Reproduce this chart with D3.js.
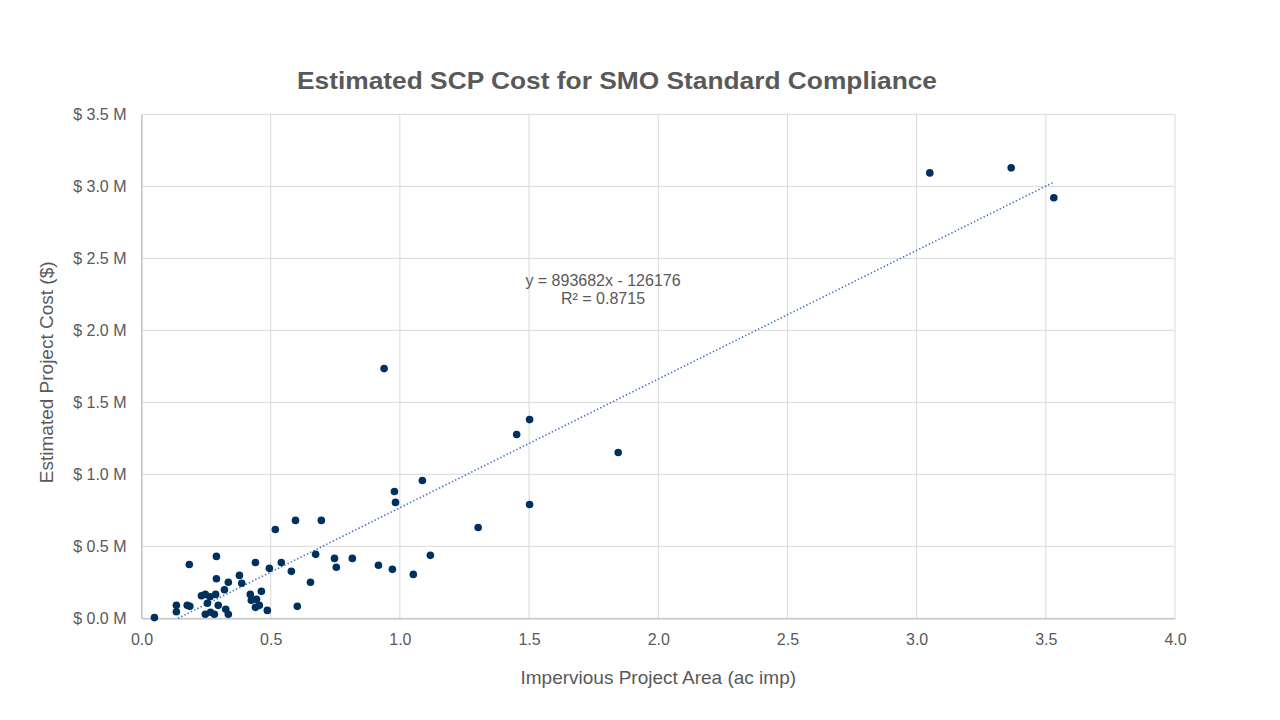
<!DOCTYPE html>
<html>
<head>
<meta charset="utf-8">
<script src="https://cdn.jsdelivr.net/npm/d3@7"></script>
<style>
  body { margin: 0; background: #fff; }
  text { font-family: "Liberation Sans", Arial, sans-serif; fill: #595959; }
</style>
</head>
<body>
<svg id="chart"></svg>
<script>
// impervious area (ac imp)
const areaAc = [
  0.05, 0.135, 0.135, 0.177, 0.187, 0.185, 0.232, 0.247, 0.265, 0.287,
  0.255, 0.297, 0.247, 0.267, 0.282, 0.29, 0.29, 0.321, 0.336, 0.326,
  0.336, 0.379, 0.388, 0.441, 0.421, 0.425, 0.445, 0.464, 0.441, 0.456,
  0.487, 0.495, 0.518, 0.541, 0.58, 0.596, 0.603, 0.654, 0.674, 0.696,
  0.747, 0.754, 0.816, 0.917, 0.971, 0.979, 0.983, 1.052, 1.087, 1.118,
  1.303, 0.939, 1.452, 1.502, 1.502, 1.845, 3.051, 3.366, 3.531
];
// estimated cost ($ M)
const costM = [
  0.005, 0.09, 0.046, 0.09, 0.083, 0.374, 0.157, 0.166, 0.15, 0.166,
  0.104, 0.09, 0.028, 0.042, 0.028, 0.43, 0.275, 0.198, 0.25, 0.062,
  0.028, 0.298, 0.243, 0.388, 0.166, 0.125, 0.132, 0.187, 0.076, 0.09,
  0.055, 0.347, 0.617, 0.388, 0.326, 0.68, 0.083, 0.25, 0.444, 0.68,
  0.416, 0.354, 0.416, 0.368, 0.34, 0.881, 0.805, 0.305, 0.957, 0.437,
  0.631, 1.734, 1.276, 1.38, 0.79, 1.151, 3.093, 3.128, 2.92
];
const xTicks = [0, 0.5, 1, 1.5, 2, 2.5, 3, 3.5, 4];
const yTicks = [0, 0.5, 1, 1.5, 2, 2.5, 3, 3.5];
const slope = 893682;
const intercept = -126176;
const r2 = 0.8715;

let width = 1280;
let height = 720;
let plotLeft = 141.5, plotTop = 114.3, plotRight = 1175, plotBottom = 618.3;

let svg = d3.select("#chart").attr("width", width).attr("height", height);

let x = d3.scaleLinear().domain([0, 4]).range([plotLeft, plotRight]);
let y = d3.scaleLinear().domain([0, 3.5]).range([plotBottom, plotTop]);

// gridlines
svg.append("g")
  .selectAll("line")
  .data(xTicks)
  .join("line")
  .attr("x1", (d) => x(d))
  .attr("x2", (d) => x(d))
  .attr("y1", plotTop)
  .attr("y2", plotBottom)
  .style("stroke", "#d9d9d9")
  .style("stroke-width", 1);

svg.append("g")
  .selectAll("line")
  .data(yTicks)
  .join("line")
  .attr("x1", plotLeft)
  .attr("x2", plotRight)
  .attr("y1", (d) => y(d))
  .attr("y2", (d) => y(d))
  .style("stroke", "#d9d9d9")
  .style("stroke-width", 1);

// axes
let xAxis = svg.append("g")
  .attr("transform", `translate(0,${plotBottom})`)
  .call(d3.axisBottom(x).tickValues(xTicks).tickSize(0).tickPadding(15).tickFormat((d) => d.toFixed(1)));
let yAxis = svg.append("g")
  .attr("transform", `translate(${plotLeft},0)`)
  .call(d3.axisLeft(y).tickValues(yTicks).tickSize(0).tickPadding(15).tickFormat((d) => `$ ${d.toFixed(1)} M`));

[xAxis, yAxis].forEach((a) => {
  a.select(".domain").style("stroke", "#bfbfbf").style("stroke-width", 1.2);
  a.selectAll("text")
    .style("font-size", "16px")
    .style("fill", "#595959")
    .style("font-family", "Liberation Sans, Arial, sans-serif");
});

// trendline
let x0 = Math.max(d3.min(areaAc), -intercept / slope);
let x1 = d3.max(areaAc);
svg.append("line")
  .attr("x1", x(x0))
  .attr("y1", y((slope * x0 + intercept) / 1e6))
  .attr("x2", x(x1))
  .attr("y2", y((slope * x1 + intercept) / 1e6))
  .style("stroke", "#4472c4")
  .style("stroke-width", 1.6)
  .style("stroke-dasharray", "1.4,2.2");

// points
svg.append("g")
  .selectAll("circle")
  .data(areaAc.map((a, i) => [a, costM[i]]))
  .join("circle")
  .attr("cx", (d) => x(d[0]))
  .attr("cy", (d) => y(d[1]))
  .attr("r", 3.8)
  .style("fill", "#00305e");

// equation label
let eq = svg.append("text")
  .attr("x", 603)
  .attr("y", 286)
  .attr("text-anchor", "middle")
  .style("font-size", "16px");
eq.append("tspan").attr("x", 603).text(`y = ${slope}x - ${-intercept}`);
eq.append("tspan").attr("x", 603).attr("dy", 18).text(`R² = ${r2}`);

// title
svg.append("text")
  .attr("x", 617)
  .attr("y", 89)
  .attr("text-anchor", "middle")
  .attr("textLength", 640)
  .attr("lengthAdjust", "spacingAndGlyphs")
  .style("font-size", "24px")
  .style("font-weight", "bold")
  .text("Estimated SCP Cost for SMO Standard Compliance");

// axis titles
svg.append("text")
  .attr("x", (plotLeft + plotRight) / 2)
  .attr("y", 684)
  .attr("text-anchor", "middle")
  .style("font-size", "19px")
  .text("Impervious Project Area (ac imp)");

svg.append("text")
  .attr("transform", `translate(53,${(plotTop + plotBottom) / 2 + 6}) rotate(-90)`)
  .attr("text-anchor", "middle")
  .style("font-size", "19px")
  .text("Estimated Project Cost ($)");
</script>
</body>
</html>
